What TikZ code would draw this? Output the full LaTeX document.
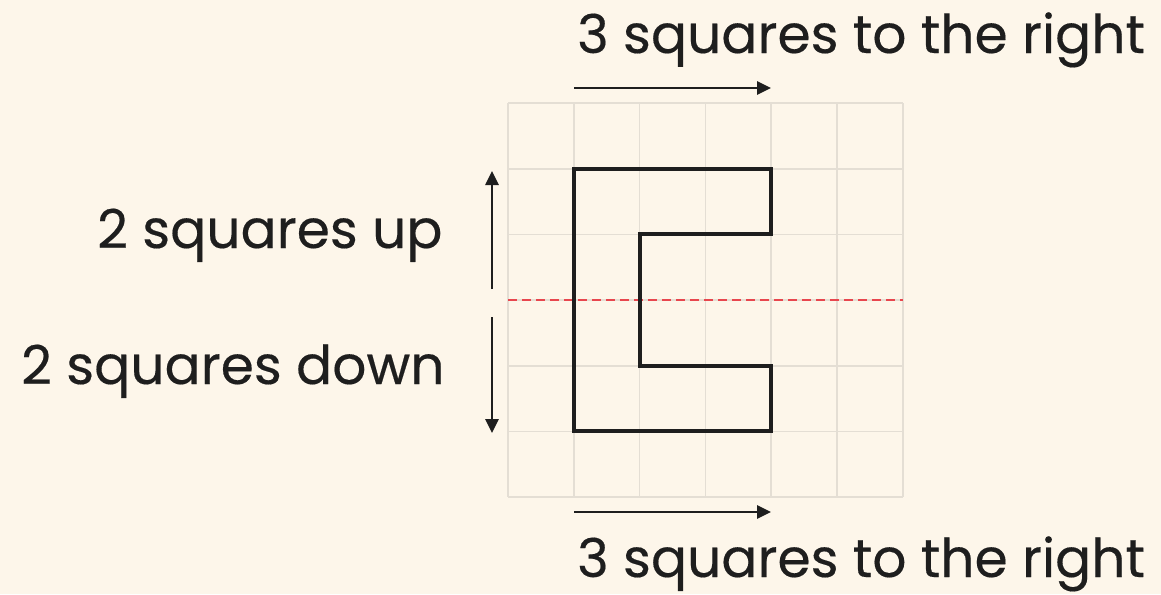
\documentclass[tikz,border=0pt]{standalone}
\usepackage{fontspec}
\setmainfont{Poppins}
\newfontfamily\lblfont{Poppins}[FakeBold=0.3]
\usetikzlibrary{arrows.meta}
\definecolor{bg}{HTML}{FDF6EA}
\definecolor{gridc}{HTML}{E4DED4}
\definecolor{ink}{HTML}{1E1E1E}
\definecolor{redd}{HTML}{E8464E}
\tikzset{
  lbl/.style={anchor=base west, inner sep=0pt, text=ink, font=\lblfont\fontsize{53.5}{54}\selectfont},
  arr/.style={draw=ink, line width=2.6pt, -{Triangle[length=14pt,width=13pt]}},
  eshape/.style={draw=ink, line width=3.2pt, line join=miter},
  gridl/.style={draw=gridc, line width=1.6pt},
}
\begin{document}
\begin{tikzpicture}[x=1pt,y=-1pt]
\fill[bg] (0,0) rectangle (1161,594);
\useasboundingbox (0,0) rectangle (1161,594);
% grid
\foreach \i in {0,...,6}{
  \draw[gridl] ({508+65.8*\i},103) -- ({508+65.8*\i},497);
  \draw[gridl] (508,{103+65.7*\i}) -- (903,{103+65.7*\i});
}
% red dashed line
\coordinate (rl) at (508,300);
\coordinate (rr) at (903,300);
\draw[redd, line width=2.6pt, dash pattern=on 9pt off 5pt] (rl) -- (rr);
% E shape
\draw[eshape] (574,169) -- (771,169) -- (771,234) -- (640,234) -- (640,366) -- (771,366) -- (771,431) -- (574,431) -- cycle;
% arrows
\coordinate (ta) at (574,88);
\coordinate (tb) at (771,88);
\coordinate (ba) at (574,512);
\coordinate (bb) at (771,512);
\coordinate (ua) at (492,289);
\coordinate (ub) at (492,171);
\coordinate (da) at (492,317);
\coordinate (db) at (492,433);
\draw[arr] (ta) -- (tb);
\draw[arr] (ba) -- (bb);
\draw[arr] (ua) -- (ub);
\draw[arr] (da) -- (db);
% labels
\node[lbl] (t1) at (577,53) {3 squares to the right};
\node[lbl] (t2) at (577,577) {3 squares to the right};
\node[lbl] (l1) at (97,248) {2 squares up};
\node[lbl] (l2) at (21,384) {2 squares down};
\end{tikzpicture}
\end{document}
